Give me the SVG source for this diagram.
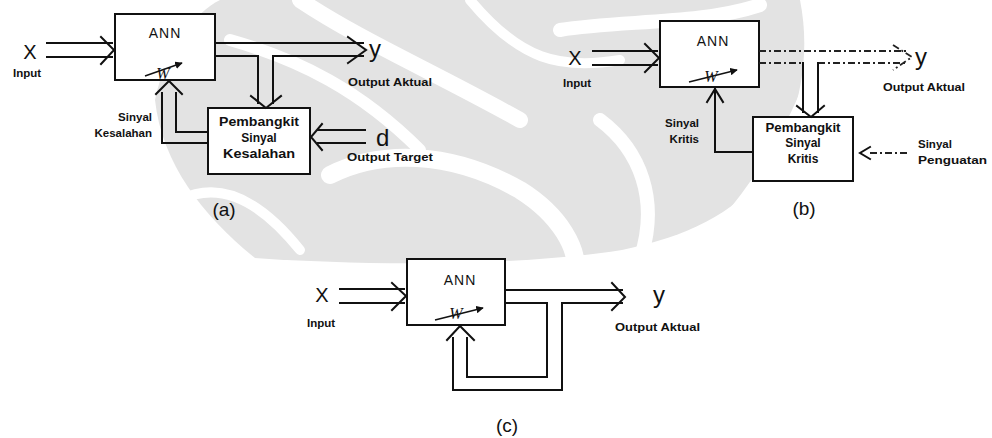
<svg xmlns="http://www.w3.org/2000/svg" width="992" height="438" viewBox="0 0 992 438">
<style>
.ln{fill:none;stroke:#111;stroke-width:2;stroke-linejoin:miter;stroke-linecap:square}
.ds{fill:none;stroke:#222;stroke-width:1.8;stroke-dasharray:7 3 2 3}
.box{fill:#fff;stroke:#111;stroke-width:2}
.wm{fill:#e3e3e3}
.wb{fill:none;stroke:#fff;stroke-linecap:round}
.t{font-family:"Liberation Sans",Arial,sans-serif;font-weight:bold;font-size:11.5px;fill:#111}
.bt{font-family:"Liberation Sans",Arial,sans-serif;font-weight:bold;font-size:12px;fill:#111;text-anchor:middle}
.ann{font-family:"Liberation Sans",Arial,sans-serif;font-size:14px;fill:#111;text-anchor:middle;letter-spacing:1px}
.big{font-family:"Liberation Sans",Arial,sans-serif;font-size:20px;fill:#111;text-anchor:middle}
.v{font-family:"Liberation Sans",Arial,sans-serif;font-size:24px;fill:#111}
.w{font-family:"Liberation Serif",serif;font-style:italic;font-size:16px;fill:#111;text-anchor:middle}
.cap{font-family:"Liberation Sans",Arial,sans-serif;font-size:19px;fill:#111;text-anchor:middle}
</style>
<defs>
<marker id="ah" viewBox="0 0 10 10" refX="9" refY="5" markerWidth="5" markerHeight="5" orient="auto"><path d="M0,0 L10,5 L0,10 z" fill="#111"/></marker>
</defs>
<rect width="992" height="438" fill="#fff"/>

<!-- faint background watermark -->
<g id="watermark">
<path class="wm" d="M155,100 C165,50 195,12 220,0 L800,0 C812,60 798,120 768,168 C738,212 690,236 622,250 C520,266 370,266 255,258 C205,218 162,165 155,100 Z"/>
<path class="wb" stroke-width="16" d="M300,0 C360,40 430,70 520,120"/>
<path class="wb" stroke-width="12" d="M230,40 C300,60 360,90 420,150"/>
<path class="wb" stroke-width="14" d="M560,30 C620,20 700,25 760,5"/>
<path class="wb" stroke-width="18" d="M330,175 C380,150 450,150 520,190 C560,215 580,250 575,275"/>
<path class="wb" stroke-width="14" d="M600,120 C640,150 660,200 640,260"/>
<path class="wb" stroke-width="12" d="M820,60 C800,110 780,160 720,230"/>
<path class="wb" stroke-width="10" d="M180,200 C220,180 260,200 300,250"/>
<path class="wb" stroke-width="10" d="M470,0 C520,60 560,70 620,60"/>
</g>

<!-- Diagram (a) -->
<g id="a-ann">
<rect class="box" x="115" y="14" width="100" height="66"/>
<text class="ann" x="165" y="38">ANN</text>
<text class="w" x="163" y="79">W</text>
<line x1="145" y1="76" x2="182" y2="63" stroke="#111" stroke-width="1.5" marker-end="url(#ah)"/>
</g>
<g id="a-gen">
<rect class="box" x="208" y="108" width="102" height="66"/>
<text class="bt" x="259" y="126" textLength="80" lengthAdjust="spacingAndGlyphs">Pembangkit</text>
<text class="bt" x="259" y="142">Sinyal</text>
<text class="bt" x="259" y="158" textLength="72" lengthAdjust="spacingAndGlyphs">Kesalahan</text>
</g>
<g id="a-labels">
<text class="big" x="30" y="59">X</text>
<text class="t" x="27" y="77" text-anchor="middle">Input</text>
<text class="v" x="369" y="57">y</text>
<text class="t" x="348" y="86" textLength="84" lengthAdjust="spacingAndGlyphs">Output Aktual</text>
<text class="v" x="376" y="146">d</text>
<text class="t" x="347" y="161" textLength="86" lengthAdjust="spacingAndGlyphs">Output Target</text>
<text class="t" x="152" y="121" text-anchor="end">Sinyal</text>
<text class="t" x="152" y="137" text-anchor="end">Kesalahan</text>
<text class="cap" x="224" y="216">(a)</text>
</g>

<!-- Diagram (b) -->
<g id="b-ann">
<rect class="box" x="660" y="21" width="99" height="66"/>
<text class="ann" x="713" y="46">ANN</text>
<text class="w" x="711" y="82">W</text>
<line x1="689" y1="82" x2="737" y2="70" stroke="#111" stroke-width="1.5" marker-end="url(#ah)"/>
</g>
<g id="b-gen">
<rect class="box" x="753" y="117" width="100" height="64"/>
<text class="bt" x="803" y="132" textLength="75" lengthAdjust="spacingAndGlyphs">Pembangkit</text>
<text class="bt" x="803" y="147">Sinyal</text>
<text class="bt" x="803" y="163">Kritis</text>
</g>
<g id="b-labels">
<text class="big" x="575" y="65">X</text>
<text class="t" x="577" y="87" text-anchor="middle">Input</text>
<text class="v" x="915" y="65" fill="#333">y</text>
<text class="t" x="883" y="91" textLength="82" lengthAdjust="spacingAndGlyphs">Output Aktual</text>
<text class="t" x="699" y="127" text-anchor="end">Sinyal</text>
<text class="t" x="699" y="143" text-anchor="end">Kritis</text>
<text class="t" x="918" y="148">Sinyal</text>
<text class="t" x="918" y="164" textLength="69" lengthAdjust="spacingAndGlyphs">Penguatan</text>
<text class="cap" x="804" y="215">(b)</text>
</g>

<!-- Diagram (c) -->
<g id="c-ann">
<rect class="box" x="407" y="259" width="98" height="66"/>
<text class="ann" x="460" y="285">ANN</text>
<text class="w" x="456" y="319">W</text>
<line x1="435" y1="320" x2="483" y2="308" stroke="#111" stroke-width="1.5" marker-end="url(#ah)"/>
</g>
<g id="c-labels">
<text class="big" x="322" y="302">X</text>
<text class="t" x="321" y="327" text-anchor="middle">Input</text>
<text class="v" x="653" y="303">y</text>
<text class="t" x="615" y="331" textLength="85" lengthAdjust="spacingAndGlyphs">Output Aktual</text>
<text class="cap" x="507" y="432">(c)</text>
</g>

<g id="connectors">
<!-- (a) -->
<path class="ln" d="M47,43 H112 M47,57 H112 M101,37 L114,50 L101,64"/>
<path class="ln" d="M215,43 H363 M215,56 H258 V103 M273,103 V56 H363 M348,37 L366,50 L348,63 M251,96 L266,108 L281,96"/>
<path class="ln" d="M365,130 H318 M365,143 H318 M322,124 L311,137 L322,150"/>
<path class="ln" d="M208,132 H176 V93 M208,143 H162 V93 M156,94 L169,81 L182,94"/>
<!-- (b) -->
<path class="ln" d="M593,51 H657 M593,65 H657 M645,44 L659,58 L645,72"/>
<path class="ds" d="M759,51 H908 M759,63 H803 M818,63 H908 M893,45 L912,57 L893,70"/>
<path class="ln" d="M803,63 V112 M818,63 V112 M797,106 L811,117 L824,106"/>
<path class="ln" d="M753,152 H715 V89 M707,102 L715,89 L723,102"/>
<path class="ln" d="M870,147 L860,153 L870,159"/>
<path class="ds" d="M870,153 H908" stroke-dasharray="4 5"/>
<!-- (c) -->
<path class="ln" d="M340,289 H404 M340,303 H404 M392,283 L406,296 L392,310"/>
<path class="ln" d="M505,290 H622 M505,303 H547 V377 H467 V338 M622,303 H562 V390 H453 V338 M612,283 L625,297 L612,310 M447,340 L460,326 L474,340"/>
</g>
</svg>
